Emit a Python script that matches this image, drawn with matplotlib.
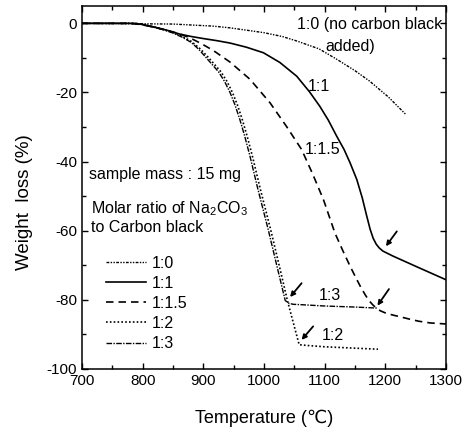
import numpy as np
import matplotlib
matplotlib.use("Agg")
import matplotlib.pyplot as plt

plt.rcParams['font.family'] = ['Liberation Sans', 'DejaVu Sans']
plt.rcParams['mathtext.default'] = 'regular'
plt.rcParams['axes.unicode_minus'] = False

# ---------------------------------------------------------------------------
# data (temperature in C, weight loss in %)
# ---------------------------------------------------------------------------
t_10 = [700, 850, 916, 944, 1000, 1030, 1054, 1091, 1120, 1150, 1174, 1205, 1234]
w_10 = [0, -0.2, -0.8, -1.3, -2.7, -3.8, -5.1, -7.4, -10.4, -13.7, -16.7, -21.3, -26.4]

t_11 = [700, 780, 795, 807, 820, 834, 848, 861, 880, 900, 922, 944, 971, 999, 1026,
        1054, 1075, 1092, 1106, 1120, 1132, 1142, 1153, 1162, 1169, 1175, 1180,
        1185, 1190, 1196, 1204, 1212, 1250, 1300]
w_11 = [0, 0, -0.2, -0.6, -1.1, -1.7, -2.4, -3.1, -3.8, -4.4, -5.0, -5.7, -6.9, -8.5, -11.3,
        -15.3, -19.8, -24.0, -28.0, -32.7, -36.5, -40.4, -45.2, -50.5, -55.5, -59.6, -62.2,
        -63.9, -65.0, -65.9, -66.6, -67.3, -70.3, -74.2]

t_115 = [700, 780, 795, 810, 830, 850, 865, 878, 896, 916, 944, 977, 1010, 1037, 1062,
         1080, 1098, 1117, 1130, 1142, 1152, 1160, 1167, 1173, 1179, 1185, 1192, 1200,
         1212, 1224, 1240, 1255, 1274, 1300]
w_115 = [0, 0, -0.3, -0.8, -1.6, -2.5, -3.3, -4.2, -5.8, -7.8, -11.2, -16.2, -23.0, -29.8,
         -36.5, -43.5, -51.0, -60.7, -65.8, -70.3, -73.8, -76.5, -78.6, -80.2, -81.4, -82.4,
         -83.2, -83.8, -84.4, -84.9, -85.6, -86.2, -86.7, -87.0]

t_12 = [700, 790, 805, 820, 835, 850, 865, 880, 895, 909, 929, 939, 948, 956, 964, 972,
        981, 994, 1011, 1025, 1039, 1058, 1070, 1100, 1150, 1188]
w_12 = [0, 0, -0.5, -1.1, -1.8, -2.6, -3.7, -5.2, -7.4, -10.0, -14.0, -16.8, -20.0, -23.5,
        -27.7, -32.5, -38.5, -48.0, -59.7, -70.0, -80.5, -93.0, -93.2, -93.6, -94.0, -94.3]

t_13 = [700, 790, 805, 820, 835, 850, 865, 880, 893, 905, 925, 935, 944, 952, 960, 968,
        977, 990, 1007, 1021, 1035, 1041, 1048, 1070, 1100, 1150, 1186]
w_13 = [0, 0, -0.5, -1.2, -1.9, -2.8, -4.0, -5.5, -7.6, -10.0, -14.0, -16.8, -20.0, -23.5,
        -27.7, -32.5, -38.5, -48.0, -59.7, -70.0, -80.2, -81.0, -81.3, -81.5, -81.8, -82.1,
        -82.4]

# arrows pointing at the end of reaction: (tail, head)
arrows = [((1219, -60.2), (1201, -64.5)),
          ((1206, -76.9), (1187, -81.7)),
          ((1062, -75.2), (1043, -79.2)),
          ((1081, -87.7), (1062, -91.6))]

# ---------------------------------------------------------------------------
fig = plt.figure(figsize=(4.65, 4.34), dpi=100)
ax = fig.add_axes([0.1763, 0.150, 0.7828, 0.836])

ax.plot(t_10, w_10, color='black', lw=1.0, ls=(0, (2, 1, 1, 1, 1, 1)), label='1:0')
ax.plot(t_11, w_11, color='black', lw=1.2, ls='-', label='1:1')
ax.plot(t_115, w_115, color='black', lw=1.2, ls=(0, (4.5, 3)), label='1:1.5')
ax.plot(t_12, w_12, color='black', lw=1.2, ls=(0, (1, 1.3)), label='1:2')
ax.plot(t_13, w_13, color='black', lw=1.0, ls=(0, (4, 1, 1, 1)), label='1:3')

for tail, head in arrows:
    ax.annotate('', xy=head, xytext=tail,
                arrowprops=dict(arrowstyle='-|>', lw=1.3, color='black',
                                mutation_scale=7, shrinkA=0, shrinkB=0))

ax.text(1294, -0.3, '1:0 (no carbon black', ha='right', va='center', fontsize=11.5)
ax.text(1143, -6.6, 'added)', ha='center', va='center', fontsize=11.5)
ax.text(1091, -18.2, '1:1', ha='center', va='center', fontsize=11.5)
ax.text(1096, -36.5, '1:1.5', ha='center', va='center', fontsize=11.5)
ax.text(1109, -78.8, '1:3', ha='center', va='center', fontsize=11.5)
ax.text(1113, -90.3, '1:2', ha='center', va='center', fontsize=11.5)

ax.text(712, -45, 'sample mass : 15 mg', ha='left', va='baseline', fontsize=11.5)
ax.text(715, -54.9, 'Molar ratio of Na$_2$CO$_3$', ha='left', va='baseline', fontsize=11.5)
ax.text(715, -60.5, 'to Carbon black', ha='left', va='baseline', fontsize=11.5)

ax.legend(loc='upper left', bbox_to_anchor=(0.066, 0.312), frameon=False,
          fontsize=11.5, handlelength=2.5, handletextpad=0.35, labelspacing=0.32,
          borderpad=0, borderaxespad=0)

ax.set_xlim(700, 1300)
ax.set_ylim(-100, 5)
ax.set_xticks(np.arange(700, 1301, 100))
ax.set_xticks(np.arange(750, 1300, 100), minor=True)
ax.set_yticks(np.arange(-100, 1, 20))
ax.set_yticks(np.arange(-90, 1, 20), minor=True)
ax.tick_params(which='both', direction='in', top=True, right=True, width=1.0,
               labelsize=11)
ax.tick_params(which='major', length=4.5)
ax.tick_params(which='minor', length=3)
for sp in ax.spines.values():
    sp.set_linewidth(1.1)

ax.set_xlabel('Temperature (\u2103)', fontsize=13, labelpad=16)
ax.set_ylabel('Weight  loss (%)', fontsize=13.5)
ax.yaxis.set_label_coords(-0.135, 0.459)

fig.savefig('out.png', dpi=100)
